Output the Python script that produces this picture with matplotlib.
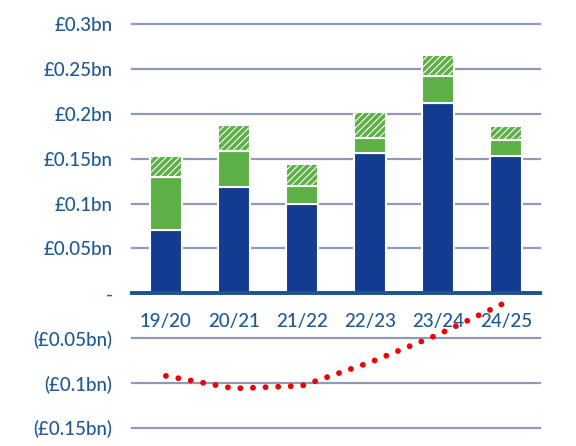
import matplotlib
matplotlib.use('Agg')
import matplotlib.pyplot as plt
import numpy as np

years = ['19/20', '20/21', '21/22', '22/23', '23/24', '24/25']
blue_vals = [0.071, 0.118, 0.099, 0.156, 0.212, 0.153]
green_vals = [0.059, 0.041, 0.020, 0.017, 0.030, 0.018]
hatch_vals = [0.023, 0.028, 0.025, 0.029, 0.024, 0.015]
line_vals = [-0.092, -0.106, -0.103, -0.077, -0.046, -0.010]

ytick_vals = [-0.15, -0.1, -0.05, 0, 0.05, 0.1, 0.15, 0.2, 0.25, 0.3]
ytick_labels = ['(£0.15bn)', '(£0.1bn)', '(£0.05bn)', '-', '£0.05bn', '£0.1bn',
                '£0.15bn', '£0.2bn', '£0.25bn', '£0.3bn']

blue = '#133b8f'
green = '#5db045'
text_col = '#1f5a94'
grid_col = '#8e9bb8'

plt.rcParams['font.family'] = ['Lato', 'DejaVu Sans']
plt.rcParams['hatch.linewidth'] = 2.6

fig = plt.figure(figsize=(5.76, 4.46), dpi=100)
ax = fig.add_axes([0.229, 0.0404, 0.7085, 0.9058])

x = np.arange(len(years))
w = 0.47

ax.bar(x, blue_vals, w, color=blue, edgecolor='white', linewidth=1.5, zorder=3)
ax.bar(x, green_vals, w, bottom=blue_vals, color=green, edgecolor='white', linewidth=1.5, zorder=3)
hb = np.array(blue_vals) + np.array(green_vals)
ax.bar(x, hatch_vals, w, bottom=hb, color='white', edgecolor=green, hatch='/////',
       linewidth=0, zorder=3)
ax.bar(x, hatch_vals, w, bottom=hb, fill=False, edgecolor='white', linewidth=1.5, zorder=4)

ax.plot(x, line_vals, color='#f00000', linewidth=4.2, linestyle=(0, (0.01, 2.15)),
        dash_capstyle='round', zorder=5, clip_on=False)

for v in ytick_vals:
    if v != 0:
        ax.axhline(v, color=grid_col, linewidth=1.6, zorder=1, clip_on=False)

ax.set_xlim(-0.5, 5.5)
ax.set_ylim(-0.15, 0.3)
ax.set_yticks(ytick_vals)
ax.set_yticklabels(ytick_labels)
ax.set_xticks(x)
ax.set_xticklabels(years)

for s in ['top', 'right', 'left']:
    ax.spines[s].set_visible(False)
ax.spines['bottom'].set_position(('data', 0))
ax.spines['bottom'].set_color('#1d5291')
ax.spines['bottom'].set_linewidth(2.8)
ax.spines['bottom'].set_zorder(4)

ax.tick_params(axis='y', length=0, pad=14, labelsize=13.5, labelcolor=text_col)
ax.tick_params(axis='x', length=0, pad=14, labelsize=13.5, labelcolor=text_col)
for lab in ax.get_xticklabels() + ax.get_yticklabels():
    lab.set_fontweight('medium')

fig.savefig('out.png', dpi=100)
